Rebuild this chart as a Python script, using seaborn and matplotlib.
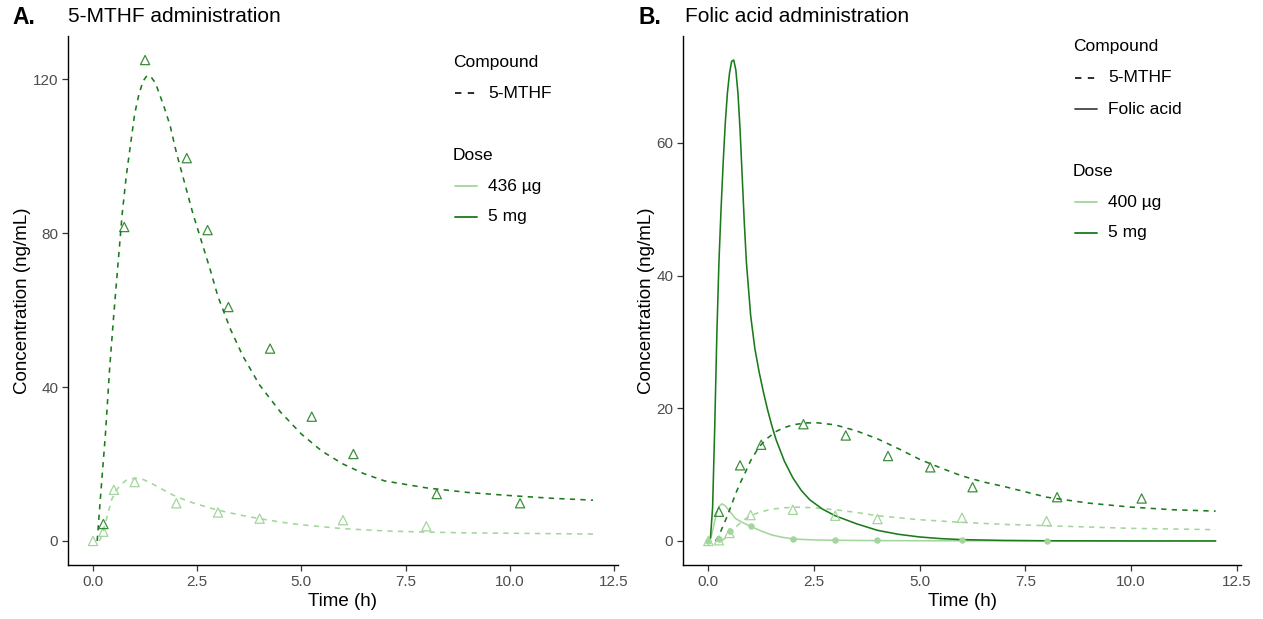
import numpy as np
import pandas as pd
import matplotlib
matplotlib.use("Agg")
import matplotlib.pyplot as plt
from matplotlib.lines import Line2D
import seaborn as sns

# ---- panel A: 5-MTHF administration ----
# fitted curves
a_hi_t = [0.10, 0.17, 0.22, 0.30, 0.40, 0.50, 0.60, 0.70, 0.80, 0.90, 1.00, 1.10, 1.20, 1.30,
          1.40, 1.50, 1.60, 1.70, 1.85, 2.00, 2.20, 2.40, 2.60, 2.80, 3.00, 3.30, 3.60, 4.00,
          4.50, 5.00, 5.50, 6.00, 6.50, 7.00, 8.00, 9.00, 10.0, 11.0, 12.0]
a_hi_c = [0, 10, 17, 28, 45, 59, 72, 85, 95, 103, 111, 116, 119.5, 121,
          120.5, 119, 116, 113, 108, 101, 93, 85, 78, 71, 63.5, 55, 48, 40.5,
          33.5, 27.8, 23.3, 20, 17.5, 15.6, 13.8, 12.6, 11.8, 11.1, 10.6]
a_lo_t = [0.15, 0.25, 0.35, 0.45, 0.55, 0.65, 0.80, 1.00, 1.20, 1.40, 1.60, 1.80, 2.00, 2.40,
          2.80, 3.20, 3.60, 4.00, 4.50, 5.00, 6.00, 7.00, 8.00, 9.00, 10.0, 11.0, 12.0]
a_lo_c = [0, 2.5, 6.8, 10.8, 13.0, 14.5, 15.8, 16.3, 16.0, 15.0, 13.8, 12.6, 11.5, 9.9,
          8.6, 7.5, 6.6, 5.8, 4.9, 4.2, 3.2, 2.6, 2.3, 2.1, 2.0, 1.9, 1.8]
# observed
a_hi_obs_t = [0.25, 0.75, 1.25, 2.25, 2.75, 3.25, 4.25, 5.25, 6.25, 8.25, 10.25]
a_hi_obs_c = [4.4, 81.6, 125, 99.5, 80.8, 60.8, 50, 32.3, 22.6, 12.2, 9.8]
a_lo_obs_t = [0, 0.25, 0.5, 1, 2, 3, 4, 6, 8]
a_lo_obs_c = [0, 2.4, 13.3, 15.3, 9.8, 7.4, 5.8, 5.4, 3.8]

# ---- panel B: folic acid administration ----
b_fa_hi_t = [0.0, 0.05, 0.10, 0.15, 0.20, 0.25, 0.30, 0.35, 0.40, 0.45, 0.50, 0.55, 0.60, 0.65,
             0.70, 0.75, 0.80, 0.85, 0.90, 1.00, 1.10, 1.20, 1.30, 1.40, 1.50, 1.60, 1.80, 2.00,
             2.20, 2.40, 2.70, 3.00, 3.50, 4.00, 4.50, 5.00, 5.50, 6.00, 7.00, 8.00, 10.0, 12.0]
b_fa_hi_c = [0, 0.5, 5, 17, 31, 42, 50, 57, 63, 67.5, 70.5, 72.3, 72.5, 71,
             67.5, 62, 55, 48, 42, 34, 29, 25.5, 22.5, 19.8, 17.4, 15.3, 12, 9.5,
             7.6, 6.2, 4.8, 3.8, 2.6, 1.6, 1.0, 0.6, 0.35, 0.2, 0.08, 0.03, 0, 0]
b_fa_lo_t = [0.0, 0.05, 0.10, 0.15, 0.20, 0.25, 0.32, 0.40, 0.50, 0.64, 0.80, 1.00, 1.25, 1.50,
             1.75, 2.00, 2.50, 3.00, 4.00, 6.00, 12.0]
b_fa_lo_c = [0, 0.3, 1.5, 3.0, 4.3, 5.2, 5.6, 5.3, 4.5, 3.4, 2.8, 2.2, 1.5, 0.9,
             0.55, 0.3, 0.15, 0.1, 0.05, 0.02, 0]
b_mt_hi_t = [0.17, 0.25, 0.35, 0.45, 0.55, 0.65, 0.75, 0.85, 1.0, 1.2, 1.4, 1.6, 1.8, 2.0,
             2.3, 2.6, 3.0, 3.5, 4.0, 4.5, 5.0, 5.5, 6.0, 6.5, 7.0, 8.0, 9.0, 10.0, 11.0, 12.0]
b_mt_hi_c = [0, 0.8, 2.3, 3.8, 5.5, 7.2, 8.7, 10.0, 12.1, 14.2, 15.5, 16.5, 17.1, 17.5,
             17.8, 17.8, 17.5, 16.6, 15.4, 13.9, 12.3, 11.0, 9.8, 8.9, 8.2, 6.6, 5.7, 5.1, 4.7, 4.5]
b_mt_lo_t = [0.3, 0.4, 0.5, 0.6, 0.7, 0.85, 1.0, 1.2, 1.5, 1.8, 2.1, 2.5, 3.0, 3.5,
             4.0, 4.5, 5.0, 6.0, 7.0, 8.0, 9.0, 10.0, 11.0, 12.0]
b_mt_lo_c = [0, 0.4, 1.0, 1.7, 2.4, 3.2, 3.8, 4.3, 4.8, 5.0, 5.1, 5.0, 4.7, 4.3,
             3.8, 3.5, 3.2, 2.8, 2.5, 2.3, 2.1, 1.9, 1.8, 1.7]
# observed
b_mt_hi_obs_t = [0.25, 0.75, 1.25, 2.25, 3.25, 4.25, 5.25, 6.25, 8.25, 10.25]
b_mt_hi_obs_c = [4.4, 11.4, 14.5, 17.6, 15.9, 12.8, 11.1, 8.1, 6.6, 6.4]
b_mt_lo_obs_t = [0, 0.25, 0.5, 1, 2, 3, 4, 6, 8]
b_mt_lo_obs_c = [0, 0.1, 1.2, 3.9, 4.7, 3.8, 3.3, 3.5, 3.0]
b_fa_lo_obs_t = [0, 0.25, 0.5, 1, 2, 3, 4, 6, 8]
b_fa_lo_obs_c = [0, 0.3, 1.5, 2.3, 0.35, 0.15, 0.12, 0.1, 0.06]

LIGHT = "#a3d69c"
DARK = "#1b7a1b"
FONT = ["Liberation Sans", "DejaVu Sans"]


def curve_df(t, c, dose, compound):
    return pd.DataFrame({"Time": t, "Conc": c, "Dose": dose, "Compound": compound})


sns.set_style("white")
plt.rcParams["font.family"] = FONT
plt.rcParams["text.color"] = "black"
plt.rcParams["axes.labelcolor"] = "black"

fig = plt.figure(figsize=(12.63, 6.19), dpi=100)
W, H = 1263, 619
axA = fig.add_axes([68 / W, 1 - 565 / H, 550 / W, 529 / H])
axB = fig.add_axes([683 / W, 1 - 565 / H, 558 / W, 529 / H])

fitA = pd.concat([curve_df(a_lo_t, a_lo_c, "low", "5-MTHF"),
                  curve_df(a_hi_t, a_hi_c, "high", "5-MTHF")])
fitB = pd.concat([curve_df(b_mt_lo_t, b_mt_lo_c, "low", "5-MTHF"),
                  curve_df(b_fa_lo_t, b_fa_lo_c, "low", "Folic acid"),
                  curve_df(b_mt_hi_t, b_mt_hi_c, "high", "5-MTHF"),
                  curve_df(b_fa_hi_t, b_fa_hi_c, "high", "Folic acid")])

pal = {"low": LIGHT, "high": DARK}
dash = {"5-MTHF": (3.3, 3.3), "Folic acid": ""}

for ax, fit in [(axA, fitA), (axB, fitB)]:
    sns.lineplot(data=fit, x="Time", y="Conc", hue="Dose", style="Compound",
                 palette=pal, dashes=dash, units=fit["Dose"] + fit["Compound"],
                 estimator=None, sort=False, lw=1.15, legend=False, ax=ax)

# observed points
tri = dict(marker="^", s=44, facecolors="none", linewidths=0.9, zorder=5)
sns.scatterplot(x=a_lo_obs_t, y=a_lo_obs_c, edgecolors=LIGHT, ax=axA, **tri)
sns.scatterplot(x=a_hi_obs_t, y=a_hi_obs_c, edgecolors=DARK, alpha=0.85, ax=axA, **tri)
sns.scatterplot(x=b_fa_lo_obs_t, y=b_fa_lo_obs_c, color=LIGHT, s=22, linewidth=0,
                zorder=5, ax=axB)
sns.scatterplot(x=b_mt_lo_obs_t, y=b_mt_lo_obs_c, edgecolors=LIGHT, ax=axB, **tri)
sns.scatterplot(x=b_mt_hi_obs_t, y=b_mt_hi_obs_c, edgecolors=DARK, alpha=0.85, ax=axB, **tri)

for ax, fit, obs, ticks in [(axA, fitA, a_hi_obs_c, [0, 40, 80, 120]),
                            (axB, fitB, b_mt_hi_obs_c, [0, 20, 40, 60])]:
    ymax = max(fit["Conc"].max(), max(obs))
    ax.set_xlim(-0.6, 12.6)
    ax.set_ylim(-0.05 * ymax, 1.05 * ymax)
    ax.set_xticks([0, 2.5, 5, 7.5, 10, 12.5])
    ax.set_xticklabels(["0.0", "2.5", "5.0", "7.5", "10.0", "12.5"])
    ax.set_yticks(ticks)
    for s in ["top", "right"]:
        ax.spines[s].set_visible(False)
    for s in ["left", "bottom"]:
        ax.spines[s].set_color("black")
        ax.spines[s].set_linewidth(1.0)
    ax.tick_params(axis="both", direction="out", length=4, width=0.9, color="#333333",
                   labelsize=11, labelcolor="#4d4d4d", pad=3, left=True, bottom=True)
    ax.set_xlabel("Time (h)", fontsize=13.5, labelpad=3)
    ax.set_ylabel("Concentration (ng/mL)", fontsize=13.5, labelpad=1)
    ax.set_facecolor("white")

# titles
fig.text(12 / W, 1 - 17 / H, "A.", fontsize=16.5, fontweight="bold", va="center")
fig.text(68 / W, 1 - 17 / H, "5-MTHF administration", fontsize=15, va="center")
fig.text(638 / W, 1 - 17 / H, "B.", fontsize=16.5, fontweight="bold", va="center")
fig.text(685 / W, 1 - 17 / H, "Folic acid administration", fontsize=15, va="center")


def legend_block(x, y, title, labels, colors, styles, step):
    fig.text(x / W, 1 - y / H, title, fontsize=12.5, va="center")
    for i, (lab, col, ls) in enumerate(zip(labels, colors, styles)):
        yy = y + step * (i + 1)
        ln = Line2D([(x + 2) / W, (x + 24) / W], [1 - yy / H, 1 - yy / H],
                    color=col, lw=1.3 if ls == "-" else 1.15,
                    linestyle=ls, transform=fig.transFigure)
        if ls == "--":
            ln.set_dashes((4, 4))
        fig.add_artist(ln)
        fig.text((x + 35) / W, 1 - yy / H, lab, fontsize=12.5, va="center")


legend_block(453, 62, "Compound", ["5-MTHF"], ["black"], ["--"], 31)
legend_block(453, 155, "Dose", ["436 µg", "5 mg"], [LIGHT, DARK], ["-", "-"], 31)
legend_block(1073, 47, "Compound", ["5-MTHF", "Folic acid"], ["black", "#444444"], ["--", "-"], 31)
legend_block(1073, 171, "Dose", ["400 µg", "5 mg"], [LIGHT, DARK], ["-", "-"], 31)

fig.savefig("out.png", dpi=100)
